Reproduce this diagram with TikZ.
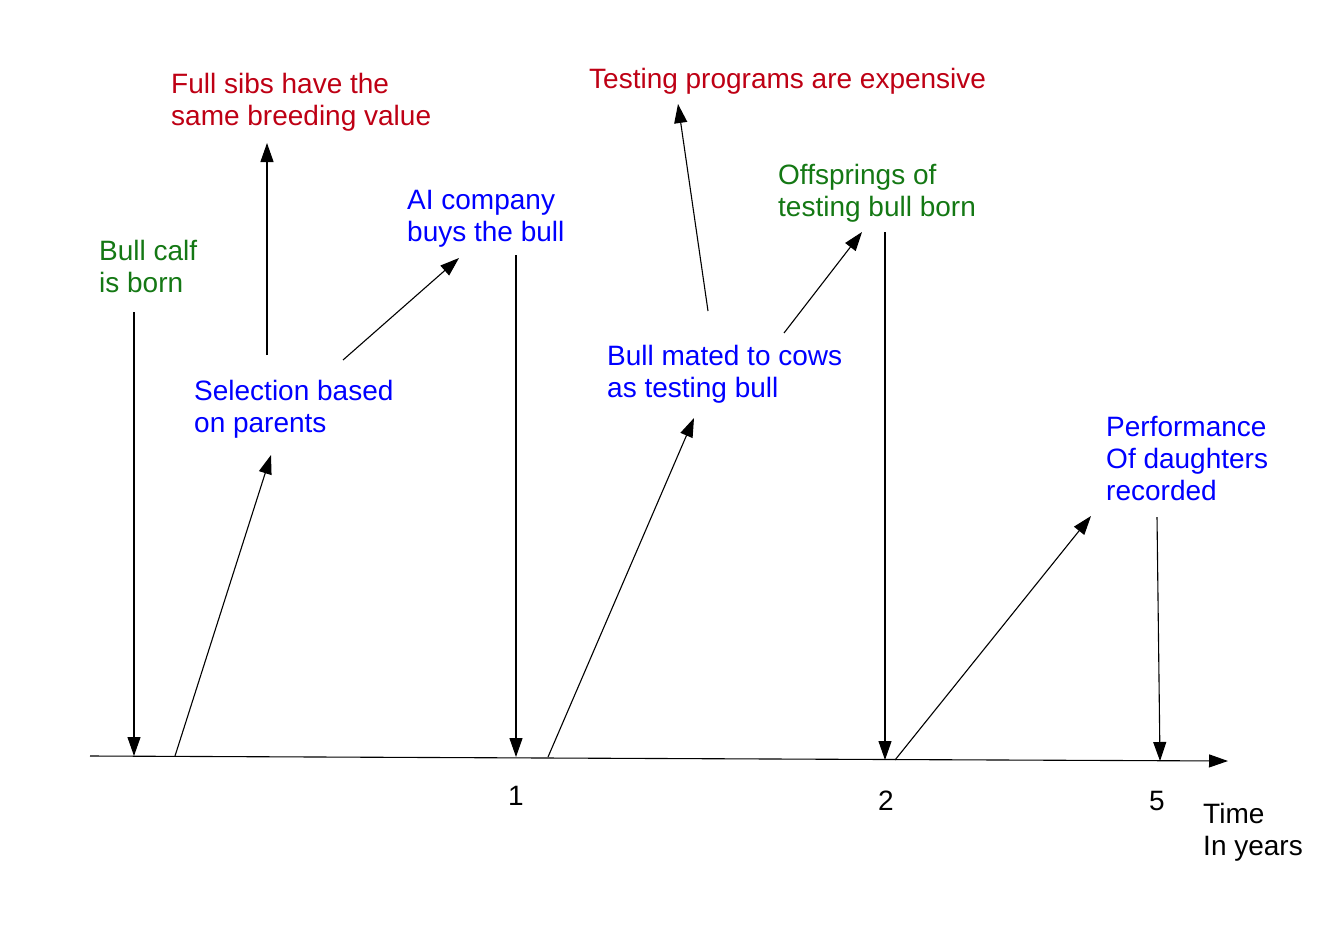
\documentclass[tikz,border=0pt]{standalone}
\usepackage{fontspec}
\setmainfont{Liberation Sans}
\usetikzlibrary{arrows.meta}
\definecolor{tred}{RGB}{190,0,20}
\definecolor{tgreen}{RGB}{20,120,20}
\definecolor{tblue}{RGB}{0,0,255}
\tikzset{
  lbl/.style={anchor=north west,inner sep=0pt,align=left,font=\fontsize{28}{32}\selectfont},
  tick/.style={anchor=base,inner sep=0pt,font=\fontsize{28}{32}\selectfont},
  arr/.style={line width=1.1pt,-{Triangle[length=19pt,width=13pt]}},
  axis/.style={line width=1.1pt,-{Triangle[length=19pt,width=13pt]}}
}
\begin{document}
\begin{tikzpicture}[x=1pt,y=-1pt]
\useasboundingbox (0,0) rectangle (1321,934);
% labels (node top = first baseline - 22.4)
\node[lbl,text=tred] (fullsibs) at (171,70.6) {\strut Full sibs have the\\same breeding value};
\node[lbl,text=tred] (testing) at (589,65.6) {\strut Testing programs are expensive};
\node[lbl,text=tgreen] (calf) at (99,237.6) {\strut Bull calf\\is born};
\node[lbl,text=tblue] (ai) at (407,186.6) {\strut AI company\\buys the bull};
\node[lbl,text=tblue] (sel) at (194,377.6) {\strut Selection based\\on parents};
\node[lbl,text=tgreen] (off) at (778,161.6) {\strut Offsprings of\\testing bull born};
\node[lbl,text=tblue] (mated) at (607,342.6) {\strut Bull mated to cows\\as testing bull};
\node[lbl,text=tblue] (perf) at (1106,413.6) {\strut Performance\\Of daughters\\recorded};
\node[lbl] (time) at (1203,800.6) {\strut Time\\In years};
\node[tick] (t1) at (516,805) {1};
\node[tick] (t2) at (886,810) {2};
\node[tick] (t5) at (1157,810) {5};
% coordinates
\coordinate (ax0) at (90,756);
\coordinate (ax1) at (1228,761);
\coordinate (a1s) at (134,312);  \coordinate (a1e) at (134,756);
\coordinate (a2s) at (175,756);  \coordinate (a2e) at (271,455);
\coordinate (a3s) at (267,355);  \coordinate (a3e) at (267,143);
\coordinate (a4s) at (343,360);  \coordinate (a4e) at (459,258);
\coordinate (a5s) at (516,255);  \coordinate (a5e) at (516,757);
\coordinate (a6s) at (548,757);  \coordinate (a6e) at (694,418);
\coordinate (a7s) at (708,311);  \coordinate (a7e) at (678,104);
\coordinate (a8s) at (784,333);  \coordinate (a8e) at (862,232);
\coordinate (a9s) at (885,232);  \coordinate (a9e) at (885,760);
\coordinate (a10s) at (895,760); \coordinate (a10e) at (1091,516);
\coordinate (a11s) at (1157,517); \coordinate (a11e) at (1160,761);
% axis
\draw[axis] (ax0) -- (ax1);
% arrows
\draw[arr] (a1s) -- (a1e);
\draw[arr] (a2s) -- (a2e);
\draw[arr] (a3s) -- (a3e);
\draw[arr] (a4s) -- (a4e);
\draw[arr] (a5s) -- (a5e);
\draw[arr] (a6s) -- (a6e);
\draw[arr] (a7s) -- (a7e);
\draw[arr] (a8s) -- (a8e);
\draw[arr] (a9s) -- (a9e);
\draw[arr] (a10s) -- (a10e);
\draw[arr] (a11s) -- (a11e);
\end{tikzpicture}
\end{document}
